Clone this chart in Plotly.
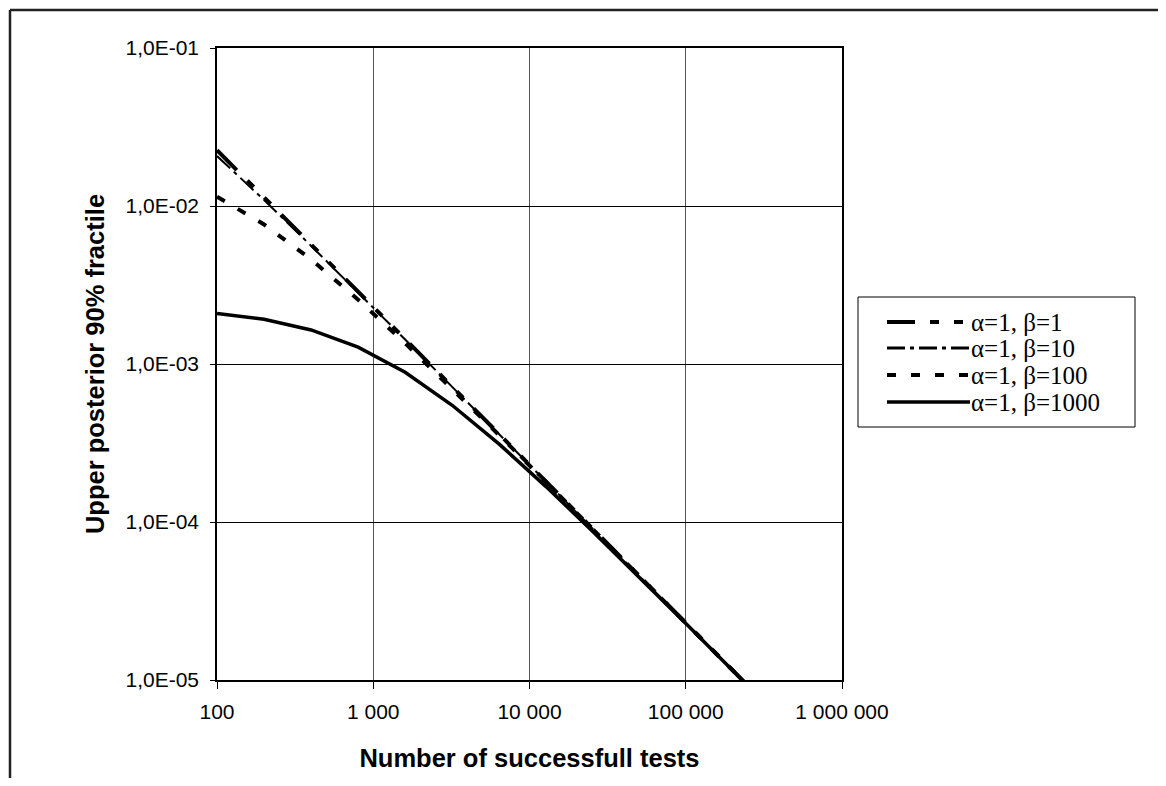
import plotly.graph_objects as go

# ---------------- data ----------------
tests = [100, 200, 400, 800, 1600, 3200, 6400, 12800, 25600, 51200,
         102400, 204800, 409600]

beta_1 = [0.02254, 0.01139, 0.005726, 0.002871, 0.001437, 7.19e-4, 3.597e-4,
          1.799e-4, 8.99e-5, 4.497e-5, 2.249e-5, 1.124e-5, 5.62e-6]
beta_10 = [0.02072, 0.01091, 0.0056, 0.002839, 0.001429, 7.17e-4, 3.592e-4,
           1.798e-4, 8.99e-5, 4.496e-5, 2.248e-5, 1.124e-5, 5.62e-6]
beta_100 = [0.01145, 0.007646, 0.004595, 0.002555, 0.001354, 6.98e-4, 3.542e-4,
            1.785e-4, 8.96e-5, 4.488e-5, 2.246e-5, 1.124e-5, 5.62e-6]
beta_1000 = [0.002091, 0.001917, 0.001643, 0.001278, 8.86e-4, 5.48e-4, 3.11e-4,
             1.669e-4, 8.66e-5, 4.41e-5, 2.227e-5, 1.119e-5, 5.61e-6]

series_names = ["α=1, β=1", "α=1, β=10", "α=1, β=100", "α=1, β=1000"]

x_tick_vals = [100, 1000, 10000, 100000, 1000000]
x_tick_text = ["100", "1 000", "10 000", "100 000", "1 000 000"]
y_tick_vals = [1e-5, 1e-4, 1e-3, 1e-2, 1e-1]
y_tick_text = ["1,0E-05", "1,0E-04", "1,0E-03", "1,0E-02", "1,0E-01"]

x_title = "Number of successfull tests"
y_title = "Upper posterior 90% fractile"

# ---------------- layout geometry ----------------
OFF = 8                      # page body margin
W, H = 1166 - 2 * OFF, 786 - 2 * OFF
PLOT_L, PLOT_R, PLOT_T, PLOT_B = 217, 842, 48, 680   # page pixels
L = PLOT_L - OFF
T = PLOT_T - OFF
R = W - (PLOT_R - OFF)
B = H - (PLOT_B - OFF)
PW = W - L - R
PH = H - T - B


def px(x):
    return (x - PLOT_L) / PW


def py(y):
    return (PLOT_B - y) / PH


line_styles = [
    dict(width=4, dash="28px,15px,9px,15px,9px,15px"),
    dict(width=2, dash="18px,5px,4px,5px"),
    dict(width=4, dash="9px,15px"),
    dict(width=3.5, dash="solid"),
]

all_series = [beta_1, beta_10, beta_100, beta_1000]

fig = go.Figure()
for name, vals, st in zip(series_names, all_series, line_styles):
    fig.add_trace(go.Scatter(
        x=tests, y=vals, mode="lines", name=name, showlegend=False,
        line=dict(color="black", width=st["width"], dash=st["dash"]),
    ))

shapes = []
annotations = []

# outer frame (top and left edges visible)
shapes.append(dict(type="line", xref="paper", yref="paper",
                   x0=px(10), x1=px(1300), y0=py(10), y1=py(10),
                   line=dict(color="#222", width=2.5)))
shapes.append(dict(type="line", xref="paper", yref="paper",
                   x0=px(10), x1=px(10), y0=py(10), y1=py(900),
                   line=dict(color="#222", width=2.5)))

# custom legend box
shapes.append(dict(type="rect", xref="paper", yref="paper",
                   x0=px(858), x1=px(1135), y0=py(297), y1=py(427),
                   line=dict(color="black", width=1), fillcolor="white",
                   layer="above"))
row_y = [322, 348, 375, 402]
for name, st, ry in zip(series_names, line_styles, row_y):
    shapes.append(dict(type="line", xref="paper", yref="paper",
                       x0=px(887), x1=px(970), y0=py(ry), y1=py(ry),
                       line=dict(color="black", width=max(st["width"], 3),
                                 dash=st["dash"])))
    annotations.append(dict(xref="paper", yref="paper", x=px(969), y=py(ry),
                            text=name, showarrow=False, xanchor="left",
                            yanchor="middle",
                            font=dict(family="Liberation Serif", size=25,
                                      color="black")))

axis_common = dict(
    type="log",
    showgrid=True,
    gridwidth=1,
    showline=True,
    linecolor="black",
    linewidth=1.5,
    mirror=True,
    ticks="outside",
    tickcolor="black",
    tickwidth=1,
    tickfont=dict(family="Liberation Sans", size=21, color="black"),
    zeroline=False,
)

fig.update_layout(
    width=W, height=H,
    margin=dict(l=L, r=R, t=T, b=B, autoexpand=False),
    paper_bgcolor="white",
    plot_bgcolor="white",
    showlegend=False,
    xaxis=dict(
        **axis_common,
        range=[2, 6],
        tickvals=x_tick_vals, ticktext=x_tick_text,
        gridcolor="#555",
        ticklen=7,
        ticklabelstandoff=5,
        title=dict(text=x_title, standoff=27,
                   font=dict(family="Liberation Sans", size=25.5,
                             color="black", weight="bold")),
    ),
    yaxis=dict(
        **axis_common,
        range=[-5, -1],
        tickvals=y_tick_vals, ticktext=y_tick_text,
        gridcolor="black",
        ticklen=5,
        ticklabelstandoff=7,
        title=dict(text=y_title, standoff=14,
                   font=dict(family="Liberation Sans", size=25.5,
                             color="black", weight="bold")),
    ),
    shapes=shapes,
    annotations=annotations,
)

fig.write_html("out.html")
